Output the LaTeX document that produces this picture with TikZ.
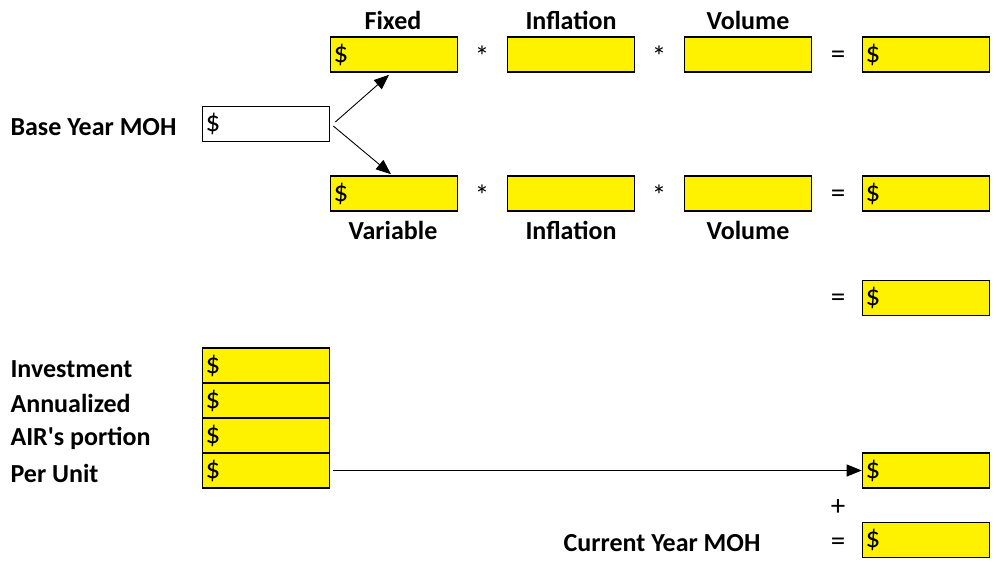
\documentclass[tikz,border=0pt]{standalone}
\usepackage{fontspec}
\setmainfont{Carlito}
\usetikzlibrary{arrows.meta}

\tikzset{
  cell/.style={draw, line width=1.6pt, fill=yellow, minimum height=35pt,
    text width=121pt, inner xsep=3pt, inner ysep=1pt, align=left,
    font=\fontsize{29}{30}\selectfont},
  blank/.style={cell, fill=white},
  head/.style={font=\bfseries\fontsize{26}{28}\selectfont},
  op/.style={font=\fontsize{29}{31}\selectfont},
  arr/.style={-{Triangle[length=15pt,width=12pt]}, line width=0.9pt}
}

\begin{document}
\begin{tikzpicture}[x=1pt,y=-1pt]
  \useasboundingbox (0,0) rectangle (997,567);

  % base year
  \node[head, anchor=west] (baselbl) at (7,127) {Base Year MOH};
  \node[blank] (base) at (266,124) {\$};

  % fixed row
  \node[head] (fixlbl) at (393,20) {Fixed};
  \node[head] (inflA) at (571,20) {Inflation};
  \node[head] (volA) at (748,20) {Volume};
  \node[cell] (fix) at (394,54.5) {\$};
  \node[op] (mulA) at (482,56) {*};
  \node[cell] (infA) at (571,54.5) {};
  \node[op] (mulB) at (659,56) {*};
  \node[cell] (volboxA) at (748,54.5) {};
  \node[op] (eqA) at (838,57) {=};
  \node[cell] (resA) at (926,54.5) {\$};

  % variable row
  \node[cell] (var) at (394,193.5) {\$};
  \node[op] (mulC) at (482,195) {*};
  \node[cell] (infB) at (571,193.5) {};
  \node[op] (mulD) at (659,195) {*};
  \node[cell] (volboxB) at (748,193.5) {};
  \node[op] (eqB) at (838,196) {=};
  \node[cell] (resB) at (926,193.5) {\$};
  \node[head] (varlbl) at (393,230) {Variable};
  \node[head] (inflB) at (571,230) {Inflation};
  \node[head] (volB) at (748,230) {Volume};

  % total
  \node[op] (eqC) at (838,300) {=};
  \node[cell] (resC) at (926,298) {\$};

  % investment stack
  \node[cell] (inv) at (266,365.5) {\$};
  \node[cell] (ann) at (266,400.5) {\$};
  \node[cell] (air) at (266,435.5) {\$};
  \node[cell] (unit) at (266,470.5) {\$};
  \node[head, anchor=west] (invlbl) at (7,369) {Investment};
  \node[head, anchor=west] (annlbl) at (7,403) {Annualized};
  \node[head, anchor=west] (airlbl) at (7,438) {AIR\textquotesingle s portion};
  \node[head, anchor=west] (unitlbl) at (7,473) {Per Unit};

  % per unit and current year
  \node[cell] (resD) at (926,470.5) {\$};
  \node[op] (plus) at (838,508) {+};
  \node[op] (eqD) at (838,544) {=};
  \node[cell] (cur) at (926,540) {\$};
  \node[head, anchor=east] (curlbl) at (764,543) {Current Year MOH};

  % arrows
  \draw[arr] ([xshift=5pt,yshift=2pt]base.east) -- ([xshift=-5pt,yshift=-2pt]fix.south);
  \draw[arr] ([xshift=3pt,yshift=-2pt]base.east) -- ([xshift=-3pt,yshift=1pt]var.north);
  \draw[arr] ([xshift=3pt]unit.east) -- (resD.west);
\end{tikzpicture}
\end{document}
